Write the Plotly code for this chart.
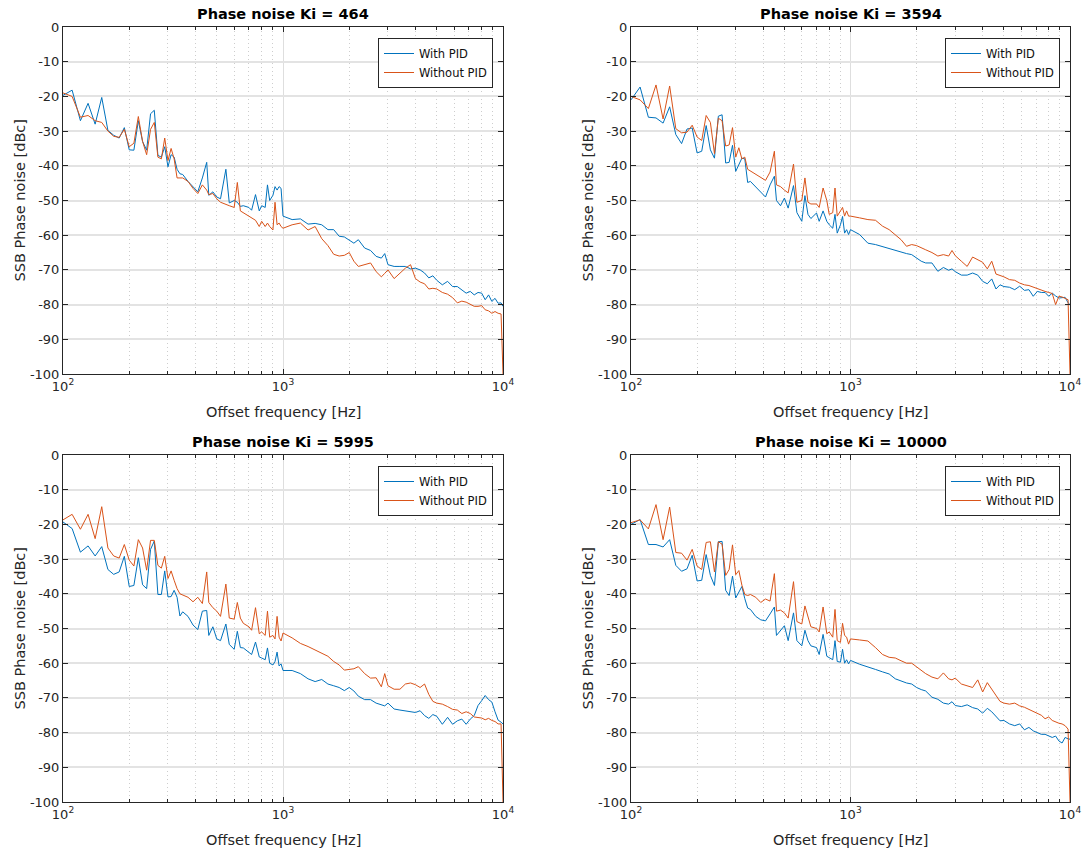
import plotly.graph_objects as go

# Offset frequency grid [Hz]
FREQ = [100, 110, 120, 130, 140, 150, 160, 170, 180, 190,
        200, 210, 220, 230, 240, 250, 260, 270, 280, 290,
        300, 310, 320, 330, 340, 350, 370, 390, 410, 430,
        450, 460, 480, 500, 520, 550, 570, 600, 620, 640,
        660, 700, 720, 750, 780, 800, 830, 850, 870, 900,
        920, 940, 960, 980, 1000, 1100, 1200, 1300, 1400, 1500,
        1600, 1700, 1800, 1900, 2000, 2100, 2200, 2350, 2500, 2650,
        2800, 2900, 3000, 3200, 3400, 3600, 3800, 4000, 4200, 4400,
        4600, 4800, 5000, 5300, 5600, 5900, 6200, 6500, 6800, 7100,
        7400, 7700, 8000, 8300, 8600, 8900, 9200, 9500, 9800, 10000]

TITLES = ["Phase noise Ki = 464", "Phase noise Ki = 3594",
          "Phase noise Ki = 5995", "Phase noise Ki = 10000"]
SERIES_NAMES = ["With PID", "Without PID"]

ki464_with = [-19.7, -18.2, -27, -22, -28, -20.3, -29.8, -31.2, -32, -29,
              -35.4, -35.5, -27, -33, -35.5, -25, -24, -37, -37.5, -34.5,
              -40.3, -36.8, -37.5, -41, -42.3, -42.5, -44.5, -46, -47.5, -43.5,
              -39, -48.5, -47.5, -49, -49.5, -41, -50.7, -50, -50.5, -51.7,
              -51.5, -52, -52.8, -48.3, -53, -51.5, -52, -45.5, -50, -48.5,
              -46, -47, -46, -46.5, -54.5, -55.5, -55.3, -56.8, -56.6, -57,
              -58.4, -58.4, -60.3, -60.5, -61.5, -62.3, -61.3, -63.7, -64.4, -66.1,
              -66.6, -65.3, -68.5, -69, -69, -69, -69.7, -69.5, -70, -70.9,
              -72.3, -71.7, -73, -74.3, -73.3, -74.8, -74.8, -75.7, -76.7, -76.2,
              -77.2, -76.5, -76.7, -78.6, -77.2, -79.1, -78.2, -79.6, -79.5, -80.5]
ki464_without = [-19, -20, -26, -25.5, -27, -27.5, -30, -31.5, -31.8, -29.5,
                 -34.5, -33.5, -25.8, -33, -36.8, -29.5, -27.5, -37.5, -38, -32,
                 -38.5, -35, -38, -43.5, -43.5, -43.5, -44.5, -46.5, -48, -45.5,
                 -47, -48.3, -48, -49.5, -50.5, -51.2, -51.5, -52, -44.8, -53,
                 -53.5, -54.5, -54.8, -55.7, -57.5, -56, -57.5, -56.5, -57.5, -58.5,
                 -50.5, -57, -56.5, -57.5, -58, -57, -56.5, -58.5, -57.5, -61,
                 -63, -65.5, -66, -65.8, -65, -67.5, -69, -68.5, -68, -70.5,
                 -72, -71, -70, -72.5, -71, -69.5, -68.5, -72.5, -73.5, -74,
                 -75.5, -75.3, -75.5, -76.5, -77, -78, -79.5, -79, -79.3, -80,
                 -80.5, -80.5, -80.3, -81.5, -81.8, -82.5, -82, -82.5, -82.7, -100]

ki3594_with = [-21, -17.3, -26, -26.2, -27.7, -23, -31, -33.6, -29.4, -29.1,
               -36.3, -35.8, -28.4, -35.4, -37.8, -25.7, -25.3, -39.2, -39, -34.1,
               -41.6, -39.9, -37.8, -38, -44.8, -44.5, -46, -47.5, -49, -45.5,
               -43, -50, -51.5, -49.3, -52.2, -45.7, -53.5, -56, -48.6, -54,
               -55.2, -53.6, -56, -53, -56, -57, -58, -54, -59.4, -57,
               -54.6, -59.4, -58.4, -59.8, -58.4, -59.8, -62.3, -62.7, -63.3, -64,
               -64.5, -65, -65.3, -65.6, -66.5, -67.5, -68, -68, -70.4, -69.3,
               -70.1, -69.7, -70.5, -71.5, -71.5, -70.9, -71.5, -73.3, -74, -72.6,
               -75.5, -74.3, -74.8, -75, -75.7, -74.7, -75.9, -75.7, -77.6, -76.2,
               -76.5, -76.5, -77.6, -76.7, -77.5, -78.1, -78, -77.9, -79.5, -80]
ki3594_without = [-20, -21, -23.5, -16.7, -26.5, -17, -29.3, -30.5, -30.3, -28.3,
                  -31.7, -32.7, -25.5, -27.5, -36.5, -26.3, -27, -34.3, -34, -29,
                  -37.5, -34.8, -38, -37.5, -41, -41.5, -42.5, -43.5, -44.2, -41.8,
                  -35.8, -45.5, -46, -47, -47.8, -39.5, -50.5, -50, -43.5, -50.5,
                  -51, -51, -52, -46.4, -50, -54, -53.5, -46.4, -54.5, -53,
                  -52, -54.5, -53, -54.5, -54.5, -55, -55.5, -55.7, -57.4, -58.4,
                  -59.8, -61.3, -63.2, -62.7, -63, -63.5, -64.2, -65, -66, -65.6,
                  -66, -64.4, -65.9, -67.5, -69, -66.3, -67, -67.8, -69.7, -67.5,
                  -71.2, -71.5, -72, -72.8, -73, -73.8, -74.3, -74.5, -75, -75.5,
                  -75.9, -76.2, -76.5, -76.8, -80, -77.6, -77.8, -78.1, -78.6, -100]

ki5995_with = [-19.3, -21.2, -28, -26.2, -29.1, -26.4, -33, -34.4, -33.7, -29.2,
               -37.9, -37.6, -29.6, -37.4, -38.5, -27.2, -24.8, -40.2, -40.2, -33.4,
               -40.9, -40.8, -39, -41, -46.4, -45.2, -46.5, -49, -50.3, -45,
               -44.8, -52, -49.5, -53, -53.5, -48.7, -54.6, -56, -50.8, -55.5,
               -55.6, -57, -57.5, -53.9, -58.2, -58.5, -59, -55.6, -60, -60.5,
               -59.5, -56.8, -60.8, -60.2, -62.1, -62.1, -63, -64.5, -65.3, -64.7,
               -66, -66.5, -67, -67.9, -67, -68, -69.5, -70.5, -70.5, -71.5,
               -72, -72.3, -71.5, -73.2, -73.5, -73.7, -74, -74.2, -73.7, -75.1,
               -75.9, -74.8, -75.3, -77.6, -75.6, -77.6, -76.6, -76.1, -77.6, -76.1,
               -75.1, -72.2, -70.8, -69.3, -70.5, -71.2, -74, -76.4, -77, -77.5]
ki5995_without = [-18.7, -17.1, -21.4, -17.1, -24.1, -14.9, -26.8, -29.1, -29.7, -25.8,
                  -30.3, -32, -24.4, -26.8, -33.2, -24.6, -24.6, -31.8, -32.6, -29.2,
                  -35.6, -33.4, -36.1, -38.5, -40, -40.3, -41, -42.3, -41, -42.8,
                  -33.7, -42.5, -44, -45, -46.5, -37.2, -47, -47.3, -42.5, -47,
                  -48.5, -49.5, -50.5, -44, -51.5, -51, -52, -45, -52.5, -52,
                  -53, -46.5, -52.5, -53.6, -51.3, -52.7, -54.3, -55.2, -56.2, -57.3,
                  -58, -59.5, -60.5, -62, -61.8, -61.6, -61, -63, -64.3, -64.2,
                  -66.8, -63, -66.5, -67.5, -67.5, -66, -65.7, -66.2, -67, -66,
                  -69, -71, -71.5, -71.8, -72.5, -73.3, -73.5, -74.5, -74, -74.5,
                  -75.5, -75.6, -75.8, -76.3, -75.9, -76.5, -76.8, -77.5, -77.5, -100]

ki10000_with = [-20, -18.6, -25.8, -25.8, -26.5, -24.4, -31.8, -33.5, -32.8, -28.9,
                -36.3, -36.1, -28.7, -34.7, -37.6, -25, -24.9, -39, -40.5, -34.9,
                -41.2, -39.5, -37.9, -41.4, -44.1, -44.5, -46.5, -47.5, -47.8, -45.8,
                -43.8, -52, -50.5, -49.2, -53.5, -45.5, -53.5, -55, -50.5, -53.5,
                -55, -55.5, -57.5, -51.7, -58, -58.5, -59, -53.5, -59.5, -59.7,
                -56, -60, -59, -60.2, -59.2, -60.3, -61, -61.8, -62.5, -63.1,
                -64.5, -65.2, -65.7, -66, -67, -67.6, -68, -69.8, -70.4, -71.5,
                -71.8, -71.1, -72.2, -72.5, -72, -72.8, -73.2, -74.4, -73, -74,
                -75.3, -76.6, -76.5, -77.5, -78, -77.5, -79.2, -78.5, -79.5, -80,
                -80.5, -80.5, -81, -81.4, -81, -82.4, -83, -81.4, -81.8, -81.9]
ki10000_without = [-19.5, -18.7, -21.3, -14.3, -24.4, -15, -28.1, -28.3, -30.3, -27.2,
                   -32, -33, -25.2, -25, -33.7, -25, -25.7, -34.7, -33, -25.9,
                   -34.5, -33.3, -37.5, -40.2, -40.5, -40.2, -41, -42.5, -41.5, -42.1,
                   -34.2, -45, -44.7, -45.5, -47, -36.5, -48, -48.7, -43.5, -46.5,
                   -49.5, -50, -51, -43.8, -51.5, -51, -52.5, -44.5, -53.5, -54,
                   -48.5, -52, -52.5, -54.5, -53, -53.3, -53.6, -55.5, -57.5, -58.3,
                   -58.5, -59.3, -60, -60, -61, -62, -63, -64, -64.5, -62.8,
                   -64.5, -64.8, -64.3, -66, -66.5, -67, -64.8, -68.3, -65.6, -67.5,
                   -69.5, -71, -71.5, -71.8, -71.5, -72.3, -72.7, -73.3, -74, -74.5,
                   -75, -76, -75.5, -76.5, -77, -77.3, -77.5, -78, -79, -100]

Y_TICKS = [0, -10, -20, -30, -40, -50, -60, -70, -80, -90, -100]
X_TICKS = [100, 1000, 10000]
X_TICKTEXT = ["10<sup>2</sup>", "10<sup>3</sup>", "10<sup>4</sup>"]
X_MINOR = [200, 300, 400, 500, 600, 700, 800, 900,
           2000, 3000, 4000, 5000, 6000, 7000, 8000, 9000]

W, H = 1086, 852
BLUE, ORANGE = "#0072BD", "#D95319"
AX = "#262626"
FONT = "DejaVu Sans"

data_sets = [(ki464_with, ki464_without), (ki3594_with, ki3594_without),
             (ki5995_with, ki5995_without), (ki10000_with, ki10000_without)]

# plot areas in pixels (left, right, top, bottom)
boxes = [(63, 503, 27, 374), (631, 1070, 27, 374),
         (63, 503, 455, 802), (631, 1070, 455, 802)]

fig = go.Figure()
layout = dict(width=W, height=H, margin=dict(l=0, r=0, t=0, b=0),
              paper_bgcolor="white", plot_bgcolor="white",
              font=dict(family=FONT, color=AX, size=13), showlegend=True)
annotations = []

for i, ((wpid, wopid), (l, r, t, b)) in enumerate(zip(data_sets, boxes)):
    n = i + 1
    xa = "x" if n == 1 else f"x{n}"
    ya = "y" if n == 1 else f"y{n}"
    lg = "legend" if n == 1 else f"legend{n}"
    fig.add_trace(go.Scatter(x=FREQ, y=wpid, mode="lines", name=SERIES_NAMES[0],
                             line=dict(color=BLUE, width=1), xaxis=xa, yaxis=ya,
                             legend=lg))
    fig.add_trace(go.Scatter(x=FREQ, y=wopid, mode="lines", name=SERIES_NAMES[1],
                             line=dict(color=ORANGE, width=1), xaxis=xa, yaxis=ya,
                             legend=lg))
    xdom = [l / W, r / W]
    ydom = [1 - b / H, 1 - t / H]
    layout["xaxis" if n == 1 else f"xaxis{n}"] = dict(
        type="log", range=[2, 4], domain=xdom, anchor=ya,
        tickvals=X_TICKS, ticktext=X_TICKTEXT, tickfont=dict(size=13, color=AX),
        ticks="inside", ticklen=5, tickcolor=AX, mirror="allticks",
        showline=True, linecolor=AX, linewidth=1, zeroline=False,
        showgrid=True, gridcolor="#dedede", gridwidth=1,
        minor=dict(tickvals=X_MINOR, ticks="inside", ticklen=3, tickcolor=AX,
                   showgrid=True, gridcolor="#cdcdcd", griddash="1px,3px", gridwidth=1),
        automargin=False, fixedrange=True)
    layout["yaxis" if n == 1 else f"yaxis{n}"] = dict(
        range=[-100, 0], domain=ydom, anchor=xa,
        tickvals=Y_TICKS, ticktext=[str(v) for v in Y_TICKS],
        tickfont=dict(size=13, color=AX),
        ticks="inside", ticklen=5, tickcolor=AX, mirror="allticks",
        showline=True, linecolor=AX, linewidth=1, zeroline=False,
        showgrid=True, gridcolor="#e3e3e3", gridwidth=1.5,
        automargin=False, fixedrange=True)
    layout[lg] = dict(x=(r - 10) / W, xanchor="right", y=1 - (t + 11) / H, yanchor="top",
                      bgcolor="white", bordercolor=AX, borderwidth=1,
                      font=dict(size=11.5, color="#111111", family=FONT),
                      tracegroupgap=0, itemwidth=30)
    cx = (l + r) / 2 / W
    annotations.append(dict(text=f"<b>{TITLES[i]}</b>", x=cx, y=1 - (t - 13) / H,
                            xref="paper", yref="paper", showarrow=False,
                            xanchor="center", yanchor="middle",
                            font=dict(size=14.5, color="black", family=FONT)))
    annotations.append(dict(text="Offset frequency [Hz]", x=cx, y=1 - (b + 38) / H,
                            xref="paper", yref="paper", showarrow=False,
                            xanchor="center", yanchor="middle",
                            font=dict(size=14.5, color=AX, family=FONT)))
    annotations.append(dict(text="SSB Phase noise [dBc]", x=(l - 44) / W,
                            y=1 - (t + b) / 2 / H,
                            xref="paper", yref="paper", showarrow=False, textangle=-90,
                            xanchor="center", yanchor="middle",
                            font=dict(size=14.5, color=AX, family=FONT)))

layout["annotations"] = annotations
fig.update_layout(**layout)
fig.write_html("out.html")
